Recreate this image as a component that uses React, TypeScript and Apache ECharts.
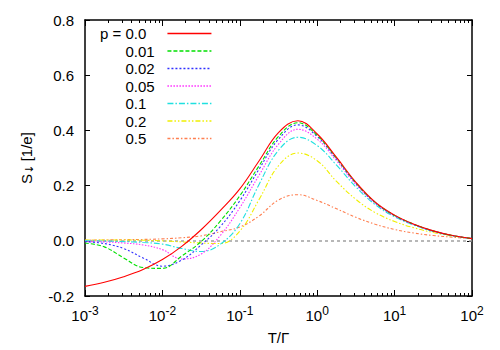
import React, { useEffect, useRef } from "react";
import * as echarts from "echarts";

// log10(T/Γ) sample positions
const LOG_T = [-3, -2.75, -2.5, -2.25, -2, -1.75, -1.5, -1.25, -1, -0.75, -0.5, -0.25, 0, 0.25, 0.5, 0.75, 1, 1.25, 1.5, 1.75, 2];

const P_LABELS = ["p = 0.0", "0.01", "0.02", "0.05", "0.1", "0.2", "0.5"];

const S_P000 = [-0.165, -0.150, -0.130, -0.104, -0.068, -0.020, 0.040, 0.110, 0.188, 0.290, 0.392, 0.435, 0.387, 0.302, 0.212, 0.140, 0.093, 0.060, 0.036, 0.019, 0.008];
const S_P001 = [-0.008, -0.022, -0.062, -0.097, -0.100, -0.055, -0.003, 0.072, 0.163, 0.272, 0.378, 0.428, 0.382, 0.299, 0.210, 0.139, 0.092, 0.060, 0.036, 0.019, 0.008];
const S_P002 = [-0.003, -0.010, -0.028, -0.062, -0.092, -0.070, -0.015, 0.052, 0.145, 0.260, 0.368, 0.420, 0.378, 0.296, 0.208, 0.138, 0.091, 0.059, 0.035, 0.019, 0.008];
const S_P005 = [-0.003, -0.004, -0.008, -0.015, -0.032, -0.066, -0.048, 0.020, 0.120, 0.238, 0.350, 0.404, 0.368, 0.290, 0.204, 0.136, 0.090, 0.059, 0.035, 0.019, 0.008];
const S_P010 = [0.000, -0.001, -0.003, -0.006, -0.012, -0.028, -0.039, -0.012, 0.062, 0.205, 0.328, 0.375, 0.345, 0.274, 0.195, 0.131, 0.087, 0.057, 0.034, 0.018, 0.008];
const S_P020 = [0.003, 0.003, 0.003, 0.002, 0.000, -0.004, -0.008, -0.010, 0.035, 0.150, 0.272, 0.318, 0.290, 0.215, 0.150, 0.102, 0.070, 0.047, 0.030, 0.017, 0.008];
const S_P050 = [0.002, 0.003, 0.004, 0.005, 0.007, 0.011, 0.018, 0.033, 0.050, 0.090, 0.148, 0.167, 0.146, 0.116, 0.085, 0.060, 0.041, 0.028, 0.019, 0.013, 0.008];

const SERIES_VALUES = [S_P000, S_P001, S_P002, S_P005, S_P010, S_P020, S_P050];
const COLORS = ["#ff0000", "#00e000", "#3030ff", "#ff30ff", "#20e0e0", "#f0f000", "#ff7f50"];
const DASHES: (string | number[])[] = ["solid", [4, 2], [2, 2], [1.5, 1.5], [6, 2, 1.5, 2], [5, 2, 1.5, 2, 1.5, 2], [3, 2, 1.5, 2]];

const Y_MIN = -0.2;
const Y_MAX = 0.8;
const Y_STEP = 0.2;
const X_MIN = 1e-3;
const X_MAX = 1e2;

const FONT = "'Liberation Sans', Arial, Helvetica, sans-serif";

export default function App() {
  const ref = useRef<HTMLDivElement>(null);
  useEffect(() => {
    if (!ref.current) return;
    const chart = echarts.init(ref.current, undefined, { renderer: "svg" });

    const minorTicks: number[] = [];
    for (let e = -3; e < 2; e++) {
      for (let k = 2; k <= 9; k++) minorTicks.push(k * Math.pow(10, e));
    }

    const baseX = {
      type: "log" as const,
      logBase: 10,
      min: X_MIN,
      max: X_MAX,
      gridIndex: 0,
      splitLine: { show: false },
    };

    const series: any[] = SERIES_VALUES.map((vals, i) => ({
      type: "line",
      name: P_LABELS[i],
      data: vals.map((v, j) => [Math.pow(10, LOG_T[j]), v]),
      showSymbol: false,
      symbol: "none",
      smooth: 0.4,
      z: 10 - i,
      lineStyle: { color: COLORS[i], width: 1.1, type: DASHES[i] },
      itemStyle: { color: COLORS[i] },
      silent: true,
    }));
    series[0].markLine = {
      silent: true,
      symbol: "none",
      label: { show: false },
      lineStyle: { color: "#a0a0a0", width: 1.5, type: [3, 3] },
      data: [{ yAxis: 0 }],
    };

    const frameLine = { show: true, onZero: false, lineStyle: { color: "#000", width: 1.5 } };

    chart.setOption({
      animation: false,
      backgroundColor: "#ffffff",
      grid: { left: 85, right: 28, top: 20, bottom: 50 },
      legend: {
        data: P_LABELS.map((name, i) => ({
          name,
          lineStyle: { color: COLORS[i], width: 1.5, type: DASHES[i], opacity: 1 },
          itemStyle: { color: COLORS[i], opacity: 0 },
        })),
        orient: "vertical",
        align: "right",
        left: 100,
        top: 26,
        padding: 0,
        itemWidth: 44,
        itemHeight: 14,
        itemGap: 2.5,
        selectedMode: false,
        formatter: (name: string) =>
          name.startsWith("p = ") ? `{p|p = }{a|${name.slice(4)}}` : `{a|${name}}`,
        textStyle: {
          fontFamily: FONT,
          fontSize: 15,
          color: "#000",
          rich: {
            p: { fontFamily: FONT, fontSize: 15, color: "#000", align: "left" },
            a: { fontFamily: FONT, fontSize: 15, color: "#000", width: 37, align: "left" },
          },
        },
      },
      xAxis: [
        {
          ...baseX,
          position: "bottom",
          axisLine: frameLine,
          axisTick: { show: true, inside: true, length: 6, lineStyle: { color: "#000", width: 1 } },
          axisLabel: {
            margin: 9,
            formatter: (v: number) => `{b|10}{s|${Math.round(Math.log10(v))}}`,
            rich: {
              b: { fontFamily: FONT, fontSize: 15, color: "#000", verticalAlign: "bottom", lineHeight: 18 },
              s: { fontFamily: FONT, fontSize: 12, color: "#000", verticalAlign: "bottom", lineHeight: 18, padding: [0, 0, 6, 0] },
            },
          },
          name: "T/Γ",
          nameLocation: "middle",
          nameGap: 34,
          nameTextStyle: { fontFamily: FONT, fontSize: 15, color: "#000" },
        },
        {
          ...baseX,
          position: "bottom",
          axisLine: { show: false, onZero: false },
          axisLabel: { show: false },
          axisTick: { show: true, inside: true, length: 3, customValues: minorTicks, lineStyle: { color: "#000", width: 1 } },
        },
        {
          ...baseX,
          position: "top",
          axisLine: frameLine,
          axisLabel: { show: false },
          axisTick: { show: true, inside: true, length: 6, lineStyle: { color: "#000", width: 1 } },
        },
        {
          ...baseX,
          position: "top",
          axisLine: { show: false, onZero: false },
          axisLabel: { show: false },
          axisTick: { show: true, inside: true, length: 3, customValues: minorTicks, lineStyle: { color: "#000", width: 1 } },
        },
      ],
      yAxis: [
        {
          type: "value",
          position: "left",
          min: Y_MIN,
          max: Y_MAX,
          interval: Y_STEP,
          splitLine: { show: false },
          axisLine: frameLine,
          axisTick: { show: true, inside: true, length: 5, lineStyle: { color: "#000", width: 1 } },
          axisLabel: {
            margin: 11,
            fontFamily: FONT,
            fontSize: 15,
            color: "#000",
            formatter: (v: number) => v.toFixed(1),
          },
          name: "{n|S}{d|↓} {n|[1/e]}",
          nameLocation: "middle",
          nameGap: 50,
          nameTextStyle: {
            rich: {
              n: { fontFamily: FONT, fontSize: 15, color: "#000" },
              d: { fontFamily: "'DejaVu Sans', sans-serif", fontSize: 11, color: "#000", padding: [7, 0, 0, 0] },
            },
          },
        },
        {
          type: "value",
          position: "right",
          min: Y_MIN,
          max: Y_MAX,
          interval: Y_STEP,
          splitLine: { show: false },
          axisLine: frameLine,
          axisTick: { show: true, inside: true, length: 5, lineStyle: { color: "#000", width: 1 } },
          axisLabel: { show: false },
        },
      ],
      series,
    });

    return () => chart.dispose();
  }, []);

  return <div ref={ref} style={{ width: 500, height: 350, position: "absolute", left: 0, top: 0 }} />;
}
